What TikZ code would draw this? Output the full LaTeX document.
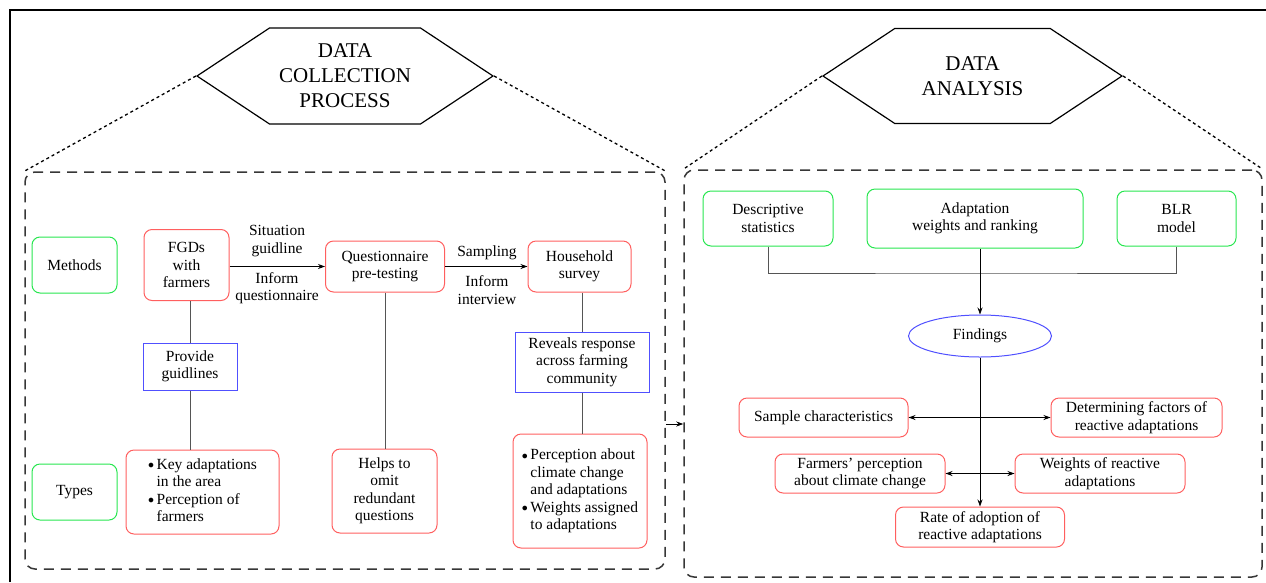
\documentclass[tikz,border=0pt]{standalone}
\usepackage{fontspec}
\setmainfont{Liberation Serif}
\usepackage{xcolor}
\usepackage{tikz}
\usetikzlibrary{shapes.geometric, shapes.symbols, arrows.meta, positioning, calc}
\definecolor{box_red}{RGB}{255, 95, 95}
\definecolor{box_green}{RGB}{40, 230, 80}
\definecolor{box_blue}{RGB}{80, 80, 255}
\definecolor{link_gray}{RGB}{85, 85, 85}
\definecolor{frame_gray}{RGB}{55, 55, 55}
\newcommand{\bul}{\raisebox{0.5pt}{\large$\bullet$}}
\tikzstyle{arrow} = [->, >={Stealth[length=7pt, width=5pt]}, line width=0.8pt]
\tikzstyle{biarrow} = [<->, >={Stealth[length=7pt, width=5pt]}, line width=0.8pt]
\tikzstyle{link} = [draw=link_gray, line width=0.9pt]
\tikzstyle{section} = [rectangle, rounded corners=10pt, draw=frame_gray, line width=1.5pt, dash pattern=on 10pt off 7pt]
\tikzstyle{zoomline} = [line width=1.3pt, dash pattern=on 3pt off 3pt]
\tikzstyle{hexa} = [signal, signal to=west and east, signal pointer angle=67, draw, line width=1.2pt, align=center, font=\fontsize{21}{25}\selectfont]
\tikzstyle{redbox} = [rectangle, rounded corners=8pt, draw=box_red, line width=1pt, align=center]
\tikzstyle{greenbox} = [rectangle, rounded corners=8pt, draw=box_green, line width=1pt, align=center]
\tikzstyle{bluebox} = [rectangle, draw=box_blue, line width=1pt, align=center]
\tikzstyle{lbl} = [align=center, inner sep=1pt]

\begin{document}
\begin{tikzpicture}[x=1pt, y=-1pt, font=\fontsize{15.5}{17.5}\selectfont]
\useasboundingbox (0,0) rectangle (1266,582);

% Outer frame
\draw[line width=2pt] (10,582) -- (10,10) -- (1266,10);

% Sections
\node[section, minimum width=640pt, minimum height=397pt] (collect) at (345,370.5) {};
\node[section, minimum width=578pt, minimum height=407pt] (analysis) at (973,373.5) {};

\node[hexa, minimum width=296pt, minimum height=96pt] (collect_title) at (345,76) {DATA\\COLLECTION\\PROCESS};
\node[hexa, minimum width=299pt, minimum height=95pt] (analysis_title) at (972.5,76) {DATA\\ANALYSIS};

\draw[zoomline] (collect_title.west) -- (collect.north west);
\draw[zoomline] (collect_title.east) -- (collect.north east);
\draw[zoomline] (analysis_title.west) -- (analysis.north west);
\draw[zoomline] (analysis_title.east) -- (analysis.north east);
\draw[arrow] (collect.east |- 0,424) -- (analysis.west |- 0,424);

% Data collection process
\node[greenbox, minimum width=85pt, minimum height=56pt] (methods) at (74.5,265) {Methods};
\node[greenbox, minimum width=85pt, minimum height=56pt] (types) at (74.5,492) {Types};

\node[redbox, minimum width=85pt, minimum height=71pt] (fgd) at (186.5,265) {FGDs\\with\\farmers};
\node[redbox, minimum width=119pt, minimum height=51pt] (quest) at (385,266.5) {Questionnaire\\pre-testing};
\node[redbox, minimum width=103pt, minimum height=51pt] (house) at (579.5,266.5) {Household\\survey};

\node[bluebox, minimum width=94pt, minimum height=47pt] (provide) at (190,366.5) {Provide\\guidlines};
\node[bluebox, minimum width=134pt, minimum height=60pt] (reveals) at (582,362) {Reveals response\\across farming\\community};

\node[redbox, minimum width=153pt, minimum height=84pt] (keyad) at (202.5,492) {%
    \begin{tabular}{@{}l@{\,}l@{}}
    \bul & Key adaptations\\
     & in the area\\
    \bul & Perception of\\
     & farmers
    \end{tabular}};
\node[redbox, minimum width=105pt, minimum height=84pt] (helps) at (384.5,491) {Helps to\\omit\\redundant\\questions};
\node[redbox, minimum width=134pt, minimum height=114pt] (percep) at (580,491) {%
    \begin{tabular}{@{}l@{\,}l@{}}
    \bul & Perception about\\
     & climate change\\
     & and adaptations\\
    \bul & Weights assigned\\
     & to adaptations
    \end{tabular}};

\node[lbl] (situation) at (277,241) {Situation\\guidline};
\node[lbl] (inform_q) at (277,288) {Inform\\questionnaire};
\node[lbl] (sampling) at (487,253) {Sampling};
\node[lbl] (inform_i) at (487,290) {Inform\\interview};

\draw[arrow] (fgd.east |- quest) -- (quest.west);
\draw[arrow] (quest.east) -- (house.west);
\draw[link] (fgd.south -| provide) -- (provide.north);
\draw[link] (provide.south) -- (provide.south |- keyad.north);
\draw[link] (quest.south) -- (quest.south |- helps.north);
\draw[link] (house.south -| reveals) -- (reveals.north);
\draw[link] (reveals.south) -- (reveals.south |- percep.north);

% Data analysis
\node[greenbox, minimum width=130pt, minimum height=55pt] (desc) at (768,218.5) {Descriptive\\statistics};
\node[greenbox, minimum width=216pt, minimum height=59pt] (adapt) at (975,218.5) {Adaptation\\weights and ranking};
\node[greenbox, minimum width=119pt, minimum height=55pt] (blr) at (1176.5,218.5) {BLR\\model};

\node[ellipse, draw=box_blue, line width=1pt, minimum width=143pt, minimum height=42pt] (findings) at (980,336) {Findings};

\node[redbox, minimum width=169pt, minimum height=39pt] (sample) at (823.5,417.5) {Sample characteristics};
\node[redbox, minimum width=171pt, minimum height=39pt] (determ) at (1136.5,417.5) {Determining factors of\\reactive adaptations};
\node[redbox, minimum width=170pt, minimum height=39pt] (farmp) at (860,473.5) {Farmers' perception\\about climate change};
\node[redbox, minimum width=170pt, minimum height=39pt] (weights) at (1100,473.5) {Weights of reactive\\adaptations};
\node[redbox, minimum width=169pt, minimum height=40pt] (rate) at (980,527) {Rate of adoption of\\reactive adaptations};

\coordinate (join) at (980,273);
\draw[link] (desc.south) |- (join) -| (blr.south);
\draw[arrow] (adapt.south -| findings) -- (findings.north);
\draw[arrow] (findings.south) -- (rate.north);
\draw[biarrow] (sample.east) -- (determ.west);
\draw[biarrow] (farmp.east) -- (weights.west);

\end{tikzpicture}
\end{document}
